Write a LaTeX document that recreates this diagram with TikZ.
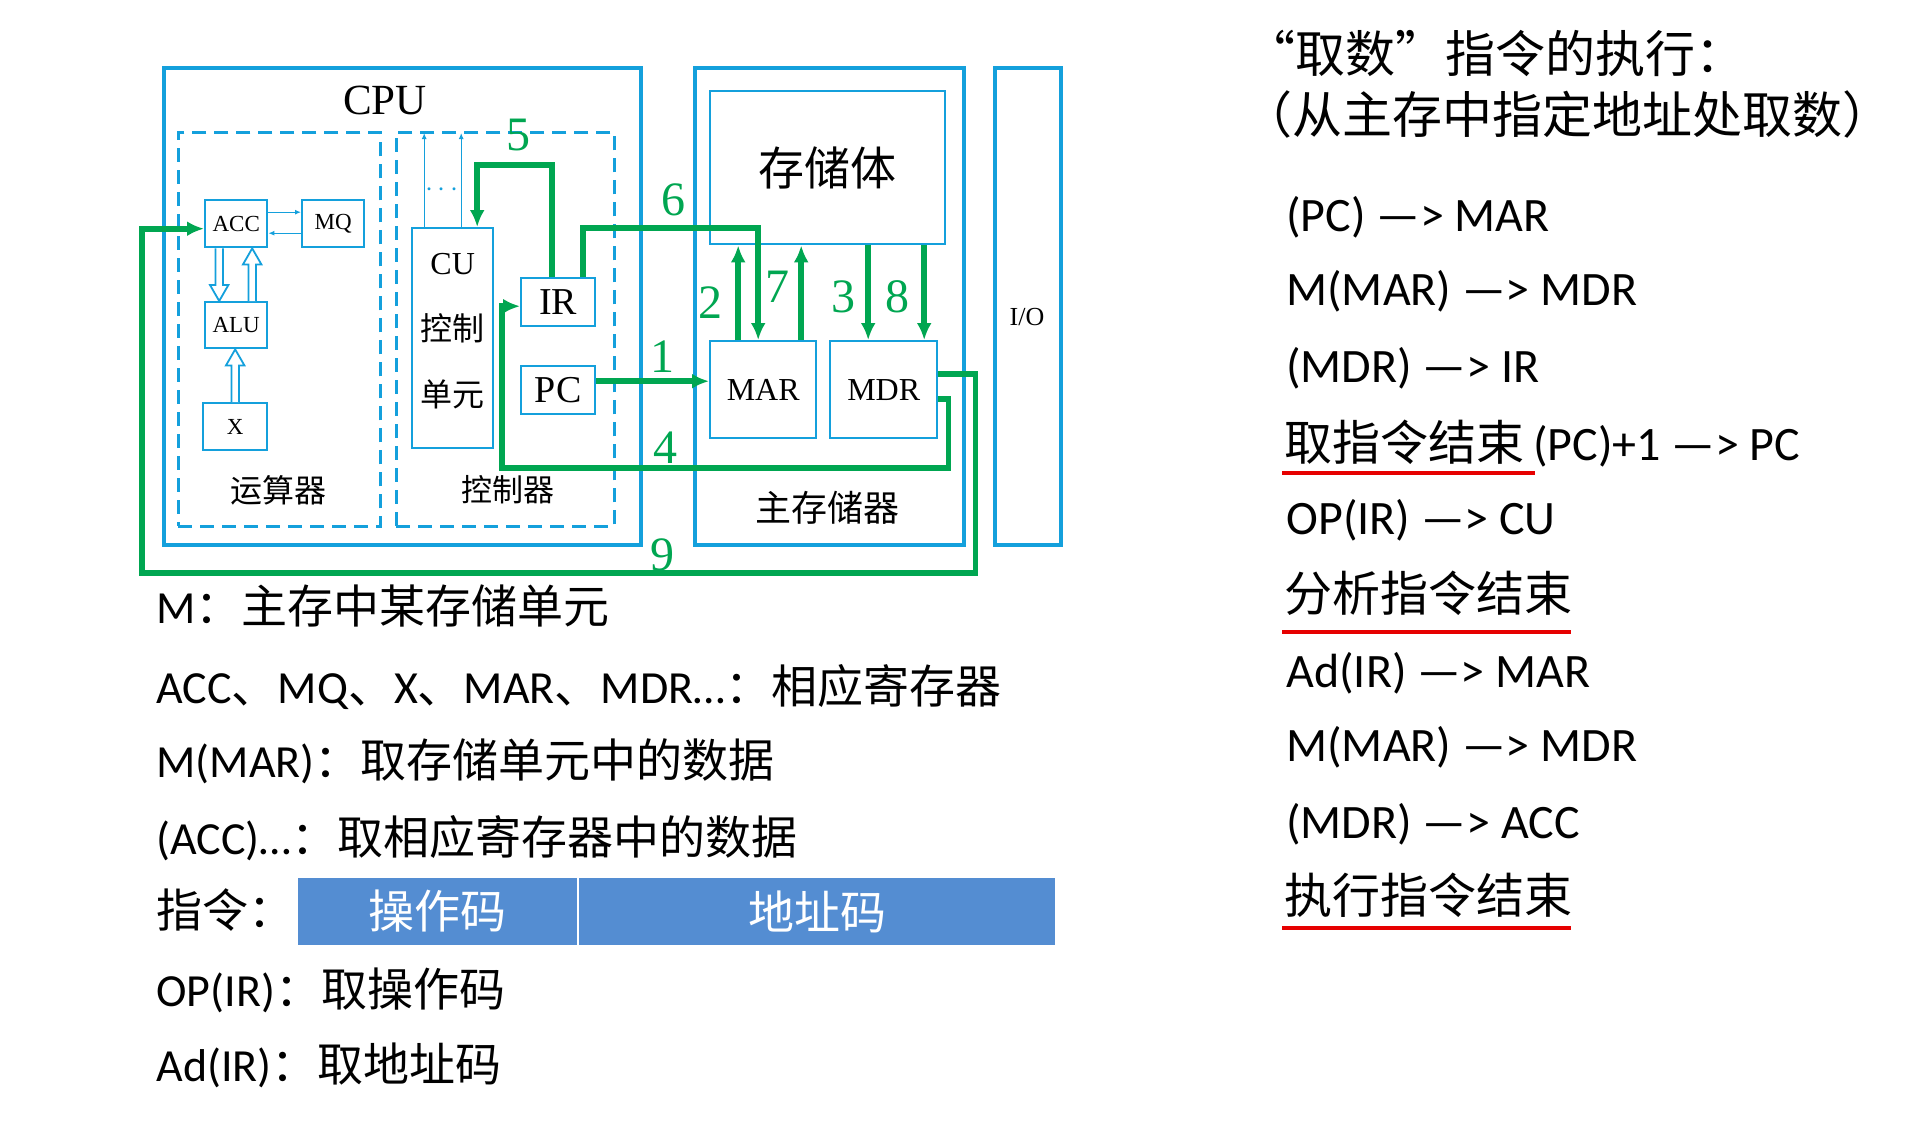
\documentclass[tikz,border=0pt]{standalone}
\usepackage{fontspec}
\setmainfont{Carlito}
\newfontfamily\cjk{Noto Sans CJK SC}
\newfontfamily\tms{Liberation Serif}
\usetikzlibrary{arrows.meta, positioning, calc}
\definecolor{bxblue} {RGB}{ 20,160,220}
\definecolor{grn}    {RGB}{  0,166, 81}
\definecolor{barblue}{RGB}{ 84,141,210}
\definecolor{ulred}  {RGB}{230,  0,  0}
\newcommand\zh[1]{{\cjk #1}}
\newcommand\fs[1]{\fontsize{#1}{#1}\selectfont}
% hollow (double) arrow between two vertically aligned points
\newcommand\hollow[2]{%
  \draw[draw=bxblue,line width=0.9pt,fill=white,line join=miter]
    let \p1=#1, \p2=#2, \n1={(\y2>\y1)*2-1} in
    (\x1-1.9pt,\y1) -- (\x1-1.9pt,\y2-\n1*8pt) -- (\x1-4.6pt,\y2-\n1*8pt)
    -- (\x1,\y2) -- (\x1+4.6pt,\y2-\n1*8pt) -- (\x1+1.9pt,\y2-\n1*8pt)
    -- (\x1+1.9pt,\y1);}
\tikzset{
  % size in pixels of the slide
  sz/.style 2 args={minimum width=#1*0.5pt,minimum height=#2*0.5pt},
  % register box
  Reg/.style={rectangle,draw=bxblue,line width=1.2pt,fill=white,
              inner sep=0pt,anchor=north west,font=\tms},
  % unit box
  Unit/.style={rectangle,draw=bxblue,line width=2pt,inner sep=0pt,
               anchor=north west},
  % dashed group box
  Grp/.style={rectangle,draw=bxblue,line width=1.3pt,
              dash pattern=on 7pt off 4pt,inner sep=0pt,anchor=north west},
  % instruction field
  Fld/.style={rectangle,fill=barblue,draw=white,line width=1pt,text=white,
              inner sep=0pt,anchor=north west,font=\cjk\fs{23}},
  % arrows
  GArr/.style={-{Latex[length=8.5pt,width=7.5pt]},line width=2.8pt,draw=grn},
  BArr/.style={-{Latex[length=3pt,width=2.5pt]},line width=0.7pt,draw=bxblue},
  Num/.style={text=grn,font=\tms\fs{24}},
  % slide text
  Txt/.style={anchor=west,inner sep=0pt,font=\fs{24},
              text height=20pt,text depth=4pt},
  ULine/.style={draw=ulred,line width=2pt},
}

\begin{document}
\begin{tikzpicture}[x=0.5pt,y=-0.5pt]
\useasboundingbox (0,0) rectangle (1912,1130);
\fill[white] (0,0) rectangle (1912,1130);
% ── CPU ─────────────────────────────────
\node[Unit,sz={477}{477}] (cpu) at (162,66) {};
\node[font=\tms\fs{21.5}] (cputxt) at (385,100) {CPU};
\node[Grp,sz={202}{394}] (alugrp) at (177,131) {};
\node[Grp,sz={218}{394}] (ctlgrp) at (395,131) {};
\node[font=\cjk\fs{16}] (alutxt) at (278,490) {运算器};
\node[font=\cjk\fs{15.5}] (ctltxt) at (508,490) {控制器};
\node[Reg,sz={62}{47},font=\tms\fs{11.5}] (acc) at (204,199) {ACC};
\node[Reg,sz={62}{47},font=\tms\fs{11.5}] (mq) at (301,199) {MQ};
\node[Reg,sz={62}{46},font=\tms\fs{11.5}] (alu) at (204,301) {ALU};
\node[Reg,sz={64}{47},font=\tms\fs{11.5}] (xreg) at (202,402) {X};
\node[Reg,sz={81}{220}] (cu) at (411,227) {};
\node[align=center,font=\cjk\fontsize{16}{33}\selectfont] (cutxt)
  at ($(cu.center)+(0,-7)$) {{\tms CU}\\控制\\单元};
\node[Reg,sz={74}{48},font=\tms\fs{19}] (ir) at (520,277) {IR};
\node[Reg,sz={74}{48},font=\tms\fs{19}] (pc) at (520,365) {PC};
\node[text=bxblue,font=\fs{14}] (dots) at (442,190) {$\cdots$};
\draw[BArr] ([yshift=5.75pt]acc.east) -- ([yshift=5.75pt]mq.west);
\draw[BArr] ([yshift=-4.75pt]mq.west) -- ([yshift=-4.75pt]acc.east);
\draw[BArr] ([xshift=-14.25pt]cu.north) -- ++(0,-94);
\draw[BArr] ([xshift=4.25pt]cu.north) -- ++(0,-94);
\hollow{([xshift=-8.5pt]acc.south)}{([xshift=-8.5pt]acc.south |- alu.north)}
\hollow{([xshift=8pt]acc.south |- alu.north)}{([xshift=8pt]acc.south)}
\hollow{(xreg.north)}{(xreg.north |- alu.south)}
% ── main memory and I/O ─────────────────
\node[Unit,sz={269}{477}] (mem) at (693,66) {};
\node[Reg,sz={235}{153},font=\cjk\fs{23}] (body) at (709,90) {存储体};
\node[Reg,sz={106}{97},font=\tms\fs{16}] (mar) at (709,340) {MAR};
\node[Reg,sz={107}{97},font=\tms\fs{16}] (mdr) at (829,340) {MDR};
\node[font=\cjk\fs{18}] (memtxt) at (827,508) {主存储器};
\node[Unit,sz={66}{477}] (io) at (993,66) {};
\node[font=\tms\fs{13}] (iotxt) at (1027,317) {I/O};
% ── data paths ──────────────────────────
\coordinate (p4) at (502,468);
\coordinate (p9) at (142,573);
\draw[GArr] ([yshift=4.5pt]pc.east) -- ([yshift=4.5pt]pc.east -| mar.west);
\draw[GArr] ([xshift=-12.5pt]mar.north) -- ([xshift=-12.5pt]mar.north |- body.south);
\draw[GArr] ([xshift=-7.75pt]mdr.north |- body.south) -- ([xshift=-7.75pt]mdr.north);
\draw[GArr] ([yshift=-4.75pt]mdr.east) -- ++(10,0) |- (p4) |- ([yshift=-2pt]ir.west);
\draw[GArr] ([xshift=-3pt]ir.north) -- ++(0,-112) -| ([xshift=12.25pt]cu.north);
\draw[GArr] ([xshift=12.5pt]ir.north) -- ++(0,-49) -| ([xshift=-2.5pt]mar.north);
\draw[GArr] ([xshift=19pt]mar.north) -- ([xshift=19pt]mar.north |- body.south);
\draw[GArr] ([xshift=20.25pt]mdr.north |- body.south) -- ([xshift=20.25pt]mdr.north);
\draw[GArr] ([yshift=7.75pt]mdr.east) -- ++(37,0) |- (p9) |- ([yshift=-2.5pt]acc.west);
\node[Num] (n1) at (662,357) {1};
\node[Num] (n2) at (710,303) {2};
\node[Num] (n3) at (843,297) {3};
\node[Num] (n4) at (665,448) {4};
\node[Num] (n5) at (518,135) {5};
\node[Num] (n6) at (673,200) {6};
\node[Num] (n7) at (777,287) {7};
\node[Num] (n8) at (897,297) {8};
\node[Num] (n9) at (662,555) {9};
% ── notes ───────────────────────────────
\node[Txt,font=\fs{23}] (m1) at (156,607) {M\zh{：主存中某存储单元}};
\node[Txt,font=\fs{23}] (m2) at (156,687) {ACC\zh{、}MQ\zh{、}X\zh{、}MAR\zh{、}MDR…\zh{：相应寄存器}};
\node[Txt,font=\fs{23}] (m3) at (156,761) {M(MAR)\zh{：取存储单元中的数据}};
\node[Txt,font=\fs{23}] (m4) at (156,838) {(ACC)…\zh{：取相应寄存器中的数据}};
\node[Txt,font=\fs{23}] (m5) at (156,911) {\zh{指令：}};
\node[Fld,sz={281}{69}] (opc) at (296,876) {操作码};
\node[Fld,sz={478}{69}] (adr) at (577,876) {地址码};
\node[Txt,font=\fs{23}] (m6) at (156,990) {OP(IR)\zh{：取操作码}};
\node[Txt,font=\fs{23}] (m7) at (156,1065) {Ad(IR)\zh{：取地址码}};
% ── steps ───────────────────────────────
\node[Txt,font=\cjk\fs{25}] (h1) at (1245,56) {“取数”指令的执行：};
\node[Txt,font=\cjk\fs{25}] (h2) at (1242,117) {（从主存中指定地址处取数）};
\node[Txt] (s1) at (1286,215) {(PC) —> MAR};
\node[Txt] (s2) at (1286,289) {M(MAR) —> MDR};
\node[Txt] (s3) at (1286,366) {(MDR) —> IR};
\node[Txt,font=\cjk\fs{24}] (s4) at (1284,444) {取指令结束};
\node[Txt,right=4pt of s4] (s4b) {(PC)+1 —> PC};
\node[Txt] (s5) at (1286,518) {OP(IR) —> CU};
\node[Txt,font=\cjk\fs{24}] (s6) at (1284,595) {分析指令结束};
\node[Txt] (s7) at (1286,671) {Ad(IR) —> MAR};
\node[Txt] (s8) at (1286,745) {M(MAR) —> MDR};
\node[Txt] (s9) at (1286,822) {(MDR) —> ACC};
\node[Txt,font=\cjk\fs{24}] (s10) at (1284,897) {执行指令结束};
\draw[ULine] ([xshift=-1pt,yshift=-2.5pt]s4.south west) -- ([xshift=5pt,yshift=-2.5pt]s4.south east);
\draw[ULine] ([xshift=-1pt,yshift=-6.5pt]s6.south west) -- ([xshift=-1pt,yshift=-6.5pt]s6.south east);
\draw[ULine] ([xshift=-1pt,yshift=-3.5pt]s10.south west) -- ([xshift=-1pt,yshift=-3.5pt]s10.south east);
\end{tikzpicture}
\end{document}
